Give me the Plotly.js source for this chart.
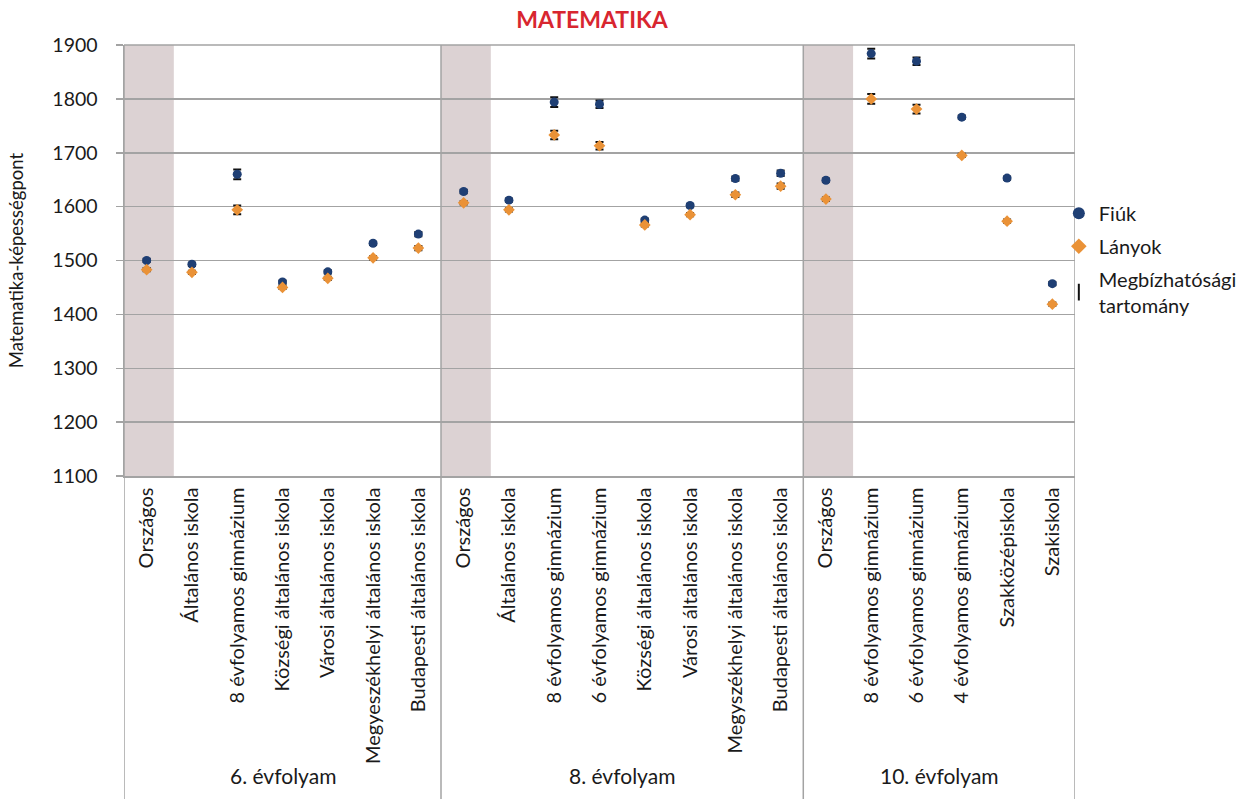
<!DOCTYPE html>
<html>
<head>
<meta charset="utf-8">
<script src="https://cdn.plot.ly/plotly-3.0.1.min.js"></script>
<style>html,body{margin:0;padding:0;background:#fff;}#chart{width:1241px;height:799px;}</style>
</head>
<body>
<div id="chart"></div>
<script>
// Categories per grade
const grade6 = ["Országos","Általános iskola","8 évfolyamos gimnázium","Községi általános iskola","Városi általános iskola","Megyeszékhelyi általános iskola","Budapesti általános iskola"];
const grade8 = ["Országos","Általános iskola","8 évfolyamos gimnázium","6 évfolyamos gimnázium","Községi általános iskola","Városi általános iskola","Megyszékhelyi általános iskola","Budapesti általános iskola"];
const grade10 = ["Országos","8 évfolyamos gimnázium","6 évfolyamos gimnázium","4 évfolyamos gimnázium","Szakközépiskola","Szakiskola"];
const groupLabels = ["6. évfolyam","8. évfolyam","10. évfolyam"];

// Fiúk (boys) values
const fiuk6 = [1500,1493,1660,1460,1479,1532,1549];
const fiuk8 = [1628,1612,1794,1790,1575,1602,1652,1662];
const fiuk10 = [1649,1884,1870,1766,1653,1457];
// Lányok (girls) values
const lanyok6 = [1483,1478,1594,1450,1467,1505,1523];
const lanyok8 = [1607,1594,1733,1713,1566,1585,1622,1638];
const lanyok10 = [1614,1800,1781,1695,1573,1419];
// Confidence half-widths
const errF6 = [3,3,9,3,3,3,4];
const errF8 = [3,3,9,7,3,3,4,5];
const errF10 = [3,9,7,3,3,3];
const errL6 = [3,3,8,3,3,3,4];
const errL8 = [3,3,8,7,3,3,4,5];
const errL10 = [3,9,8,3,3,3];

const yTitle = "Matematika-képességpont";
const chartTitle = "MATEMATIKA";

const groups = [grade6, grade8, grade10];
const cats = [].concat(grade6, grade8, grade10);
const xs = cats.map((_, i) => i);
const fiuk = [].concat(fiuk6, fiuk8, fiuk10);
const lanyok = [].concat(lanyok6, lanyok8, lanyok10);
const errF = [].concat(errF6, errF8, errF10);
const errL = [].concat(errL6, errL8, errL10);

const FONT = "Lato, 'Open Sans', sans-serif";
const GRID = "#a3a3a3";
const TXT = "#1a1a1a";

const starts = [];
let acc = 0;
groups.forEach(g => { starts.push(acc); acc += g.length; });
const total = acc;

const shapes = [];
const annotations = [];
groups.forEach((g, gi) => {
  const s = starts[gi];
  shapes.push({type:"rect", xref:"x", yref:"paper", x0:s-0.5, x1:s+0.6, y0:0, y1:1,
    fillcolor:"#dcd2d3", line:{width:0}, layer:"below"});
  annotations.push({xref:"x", yref:"paper", x:s+(g.length-1)/2, y:-0.696, text:groupLabels[gi],
    showarrow:false, font:{family:FONT, size:21, color:TXT}, xanchor:"center", yanchor:"middle"});
});
const bounds = starts.map(s => s-0.5).concat([total-0.5]);
bounds.forEach(b => {
  shapes.push({type:"line", xref:"x", yref:"paper", x0:b, x1:b, y0:1, y1:-0.75,
    line:{color:GRID, width:1.5}, layer:"above"});
});
shapes.push({type:"line", xref:"paper", yref:"paper", x0:0, x1:1, y0:1, y1:1, line:{color:GRID, width:1.5}});

const traces = [
  {type:"scatter", mode:"markers", name:"Fiúk", legendgroup:"f", x:xs, y:fiuk,
   marker:{symbol:"circle", size:9, color:"#1f3f74"},
   error_y:{type:"data", array:errF, visible:true, color:"#111", thickness:2, width:4}},
  {type:"scatter", mode:"markers", name:"Lányok", legendgroup:"l", x:xs, y:lanyok,
   marker:{symbol:"diamond", size:9, color:"#ea9237"},
   error_y:{type:"data", array:errL, visible:true, color:"#111", thickness:2, width:4}},
  {type:"scatter", mode:"markers", name:"Megbízhatósági<br>tartomány", legendgroup:"m", x:[null], y:[null],
   marker:{symbol:"line-ns-open", size:9, color:"#111", line:{color:"#111", width:2.5}}}
];

const layout = {
  width:1241, height:799,
  margin:{l:124, r:166, t:45, b:323, pad:0, autoexpand:false},
  paper_bgcolor:"#fff", plot_bgcolor:"#fff",
  font:{family:FONT, size:18, color:TXT},
  title:{text:chartTitle, x:0.477, xanchor:"center", y:0.975, yanchor:"middle",
    font:{family:FONT, size:23, color:"#d8262f", weight:"bold"}},
  showlegend:true,
  legend:{x:0.983, xanchor:"left", y:0.655, yanchor:"top", bgcolor:"rgba(0,0,0,0)",
    font:{family:FONT, size:20, color:TXT}, tracegroupgap:4, itemsizing:"constant"},
  xaxis:{range:[-0.5, total-0.5], tickmode:"array", tickvals:xs, ticktext:cats, tickangle:-90,
    showgrid:false, zeroline:false, showline:true, linecolor:GRID, linewidth:1.5, ticks:"",
    tickfont:{family:FONT, size:20, color:TXT}, fixedrange:true, ticklabelstandoff:2},
  yaxis:{range:[1100,1900], dtick:100, tick0:1100, showgrid:true, gridcolor:GRID, gridwidth:1.5,
    zeroline:false, showline:true, linecolor:GRID, linewidth:1.5, ticks:"outside", ticklen:7,
    tickcolor:GRID, tickwidth:1.5, tickfont:{family:FONT, size:19.5, color:TXT}, ticklabelstandoff:14,
    title:{text:yTitle, standoff:24, font:{family:FONT, size:18.5, color:TXT}}},
  shapes:shapes,
  annotations:annotations
};

Plotly.newPlot("chart", traces, layout, {displayModeBar:false, staticPlot:true});
</script>
</body>
</html>
